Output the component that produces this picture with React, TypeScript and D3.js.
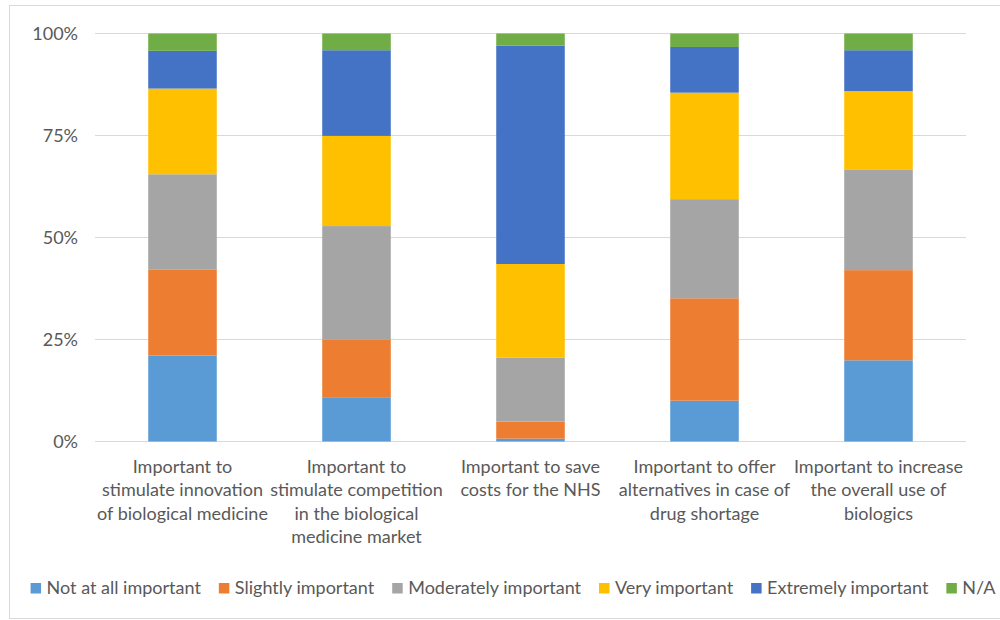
import React, { useLayoutEffect, useRef, useState } from "react";
import * as d3 from "d3";

// Survey statements (x categories); "\n" marks the wrapped lines
const categories = [
  "Important to\nstimulate innovation\nof biological medicine",
  "Important to\nstimulate competition\nin the biological\nmedicine market",
  "Important to save\ncosts for the NHS",
  "Important to offer\nalternatives in case of\ndrug shortage",
  "Important to increase\nthe overall use of\nbiologics",
];

// Response levels (stack order, bottom to top)
const seriesNames = [
  "Not at all important",
  "Slightly important",
  "Moderately important",
  "Very important",
  "Extremely important",
  "N/A",
];
const seriesColors = ["#5B9BD5", "#ED7D31", "#A5A5A5", "#FFC000", "#4472C4", "#70AD47"];

// Share of respondents (%) per statement
const notAtAll = [21.1, 10.7, 0.7, 10.0, 19.9];
const slightly = [21.1, 14.2, 4.2, 25.1, 22.1];
const moderately = [23.3, 27.9, 15.7, 24.3, 24.7];
const very = [21.0, 22.1, 22.9, 26.1, 19.2];
const extremely = [9.25, 21.0, 53.5, 11.2, 10.0];
const notApplicable = [4.25, 4.1, 3.0, 3.3, 4.1];

const yTicks = [0, 0.25, 0.5, 0.75, 1];

const W = 1000;
const H = 620;
const FONT = "Lato, 'Liberation Sans', sans-serif";
const FS = 18;

export default function App() {
  const seriesValues = [notAtAll, slightly, moderately, very, extremely, notApplicable];
  const rows = categories.map((c, i) => {
    const r: Record<string, any> = { category: c };
    seriesNames.forEach((s, k) => (r[s] = seriesValues[k][i]));
    return r;
  });

  const stacked = d3.stack<any>().keys(seriesNames).offset(d3.stackOffsetExpand)(rows);

  const x = d3
    .scaleBand<string>()
    .domain(categories)
    .range([95.5, 965.5])
    .paddingInner(0.606)
    .paddingOuter(0.303);
  const y = d3.scaleLinear().domain([0, 1]).range([441.5, 33.5]);
  const fmt = d3.format(".0%");

  // legend layout from the rendered label widths
  const labelRefs = useRef<(SVGTextElement | null)[]>([]);
  const [widths, setWidths] = useState<number[]>(seriesNames.map((s) => s.length * 8));
  useLayoutEffect(() => {
    const w = labelRefs.current.map((el) => (el ? el.getComputedTextLength() : 0));
    setWidths(w);
  }, []);

  const sq = 10.5;
  const toText = 16;
  const gap = 18;
  const total = widths.reduce((a, w) => a + toText + w, 0) + gap * (seriesNames.length - 1);
  let cursor = 513 - total / 2;
  const legend = seriesNames.map((s, i) => {
    const item = { name: s, color: seriesColors[i], x: cursor };
    cursor += toText + widths[i] + gap;
    return item;
  });

  return (
    <svg
      width={W}
      height={H}
      style={{ position: "absolute", left: 0, top: 0, background: "#fff", fontFamily: FONT }}
    >
      <rect x={9.5} y={5.5} width={1000} height={613} fill="#fff" stroke="#D9D9D9" />

      {yTicks.map((t) => (
        <g key={t}>
          <line x1={95} x2={966} y1={y(t)} y2={y(t)} stroke="#D9D9D9" strokeWidth={1} />
          <text x={78} y={y(t)} dy="0.35em" textAnchor="end" fontSize={FS} fill="#595959">
            {fmt(t)}
          </text>
        </g>
      ))}

      {stacked.map((layer, k) => (
        <g key={layer.key} fill={seriesColors[k]}>
          {layer.map((d, i) => (
            <rect
              key={i}
              x={x(categories[i])}
              width={x.bandwidth()}
              y={y(d[1])}
              height={y(d[0]) - y(d[1])}
            />
          ))}
        </g>
      ))}

      {categories.map((c) => (
        <text
          key={c}
          x={(x(c) ?? 0) + x.bandwidth() / 2}
          y={473}
          textAnchor="middle"
          fontSize={FS}
          fill="#595959"
        >
          {c.split("\n").map((line, j) => (
            <tspan key={j} x={(x(c) ?? 0) + x.bandwidth() / 2} dy={j === 0 ? 0 : 23.3}>
              {line}
            </tspan>
          ))}
        </text>
      ))}

      {legend.map((l, i) => (
        <g key={l.name}>
          <rect x={l.x} y={583} width={sq} height={sq} fill={l.color} />
          <text
            ref={(el) => {
              labelRefs.current[i] = el;
            }}
            x={l.x + toText}
            y={588}
            dy="0.35em"
            fontSize={FS}
            fill="#595959"
          >
            {l.name}
          </text>
        </g>
      ))}
    </svg>
  );
}
